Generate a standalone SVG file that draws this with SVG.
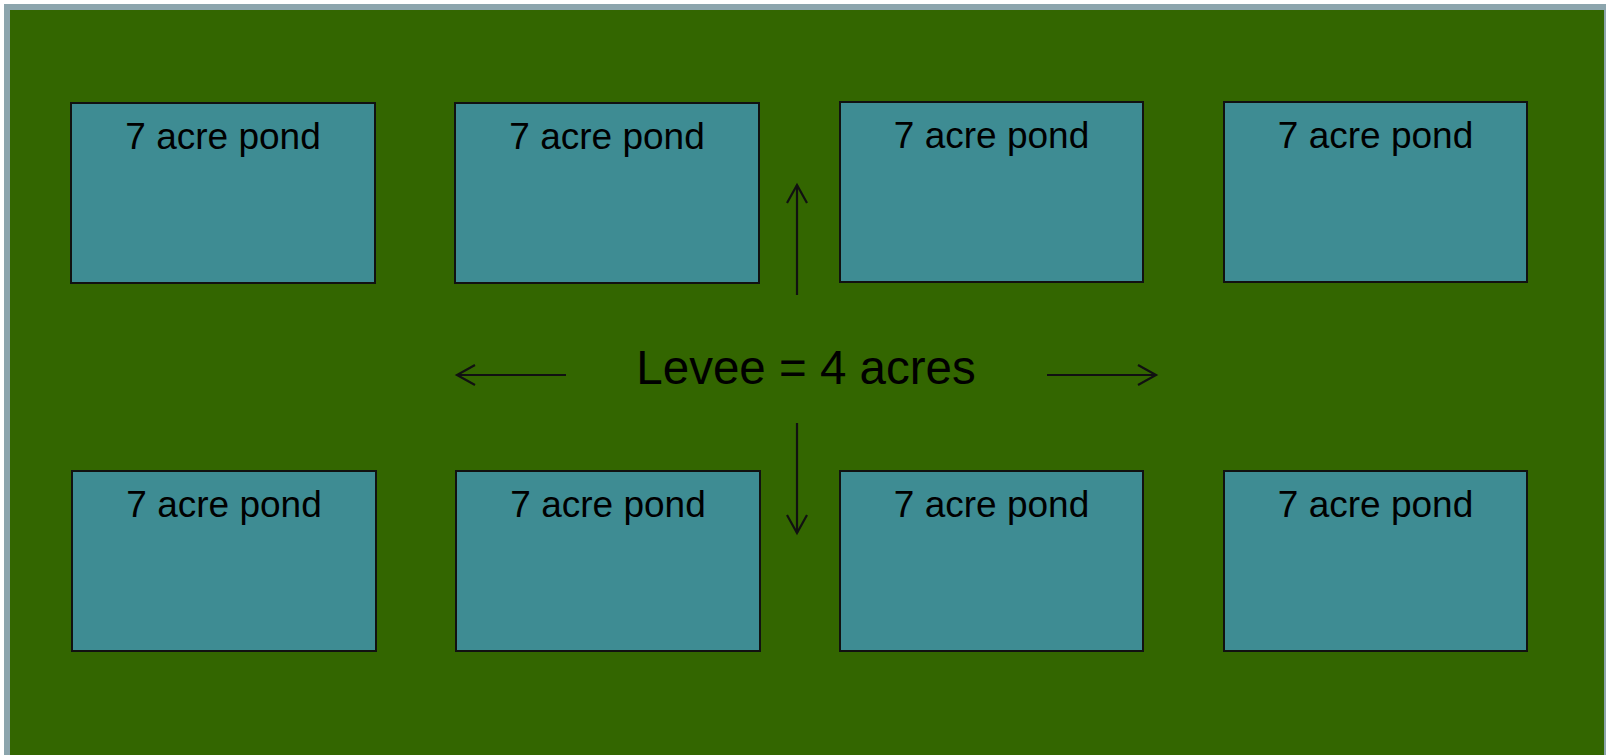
<svg xmlns="http://www.w3.org/2000/svg" width="1606" height="755" viewBox="0 0 1606 755">
  <style>
    .pond rect { fill: #3e8c93; stroke: #111; stroke-width: 2; }
    .pond text { font-family: "Liberation Sans", Arial, sans-serif; font-size: 37px; fill: #000; text-anchor: middle; }
    .conn line { stroke: #111; stroke-width: 2.2; fill: none; marker-end: url(#open); }
    .label { font-family: "Liberation Sans", Arial, sans-serif; font-size: 47.5px; fill: #000; text-anchor: middle; }
  </style>
  <defs>
    <marker id="open" markerUnits="userSpaceOnUse" markerWidth="22" markerHeight="24" viewBox="-20 -12 22 24" refX="0" refY="0" orient="auto" overflow="visible">
      <path d="M-18,-10 L0,0 L-18,10" fill="none" stroke="#111" stroke-width="2.2"/>
    </marker>
  </defs>
  <rect x="0" y="0" width="1606" height="755" fill="#ffffff"/>
  <rect id="field" x="7" y="7" width="1600" height="800" fill="#336600" stroke="#8ca5ad" stroke-width="6"/>

  <g id="pond1" class="pond"><rect x="71" y="103" width="304" height="180"/><text x="223" y="149">7 acre pond</text></g>
  <g id="pond2" class="pond"><rect x="455" y="103" width="304" height="180"/><text x="607" y="149">7 acre pond</text></g>
  <g id="pond3" class="pond"><rect x="840" y="102" width="303" height="180"/><text x="991.5" y="148">7 acre pond</text></g>
  <g id="pond4" class="pond"><rect x="1224" y="102" width="303" height="180"/><text x="1375.5" y="148">7 acre pond</text></g>
  <g id="pond5" class="pond"><rect x="72" y="471" width="304" height="180"/><text x="224" y="517">7 acre pond</text></g>
  <g id="pond6" class="pond"><rect x="456" y="471" width="304" height="180"/><text x="608" y="517">7 acre pond</text></g>
  <g id="pond7" class="pond"><rect x="840" y="471" width="303" height="180"/><text x="991.5" y="517">7 acre pond</text></g>
  <g id="pond8" class="pond"><rect x="1224" y="471" width="303" height="180"/><text x="1375.5" y="517">7 acre pond</text></g>

  <g id="levee"><text class="label" x="806" y="384">Levee = 4 acres</text></g>

  <g id="connectors" class="conn">
    <line x1="797" y1="295" x2="797" y2="185"/>
    <line x1="797" y1="423" x2="797" y2="533"/>
    <line x1="566" y1="375" x2="457" y2="375"/>
    <line x1="1047" y1="375" x2="1156" y2="375"/>
  </g>
</svg>
